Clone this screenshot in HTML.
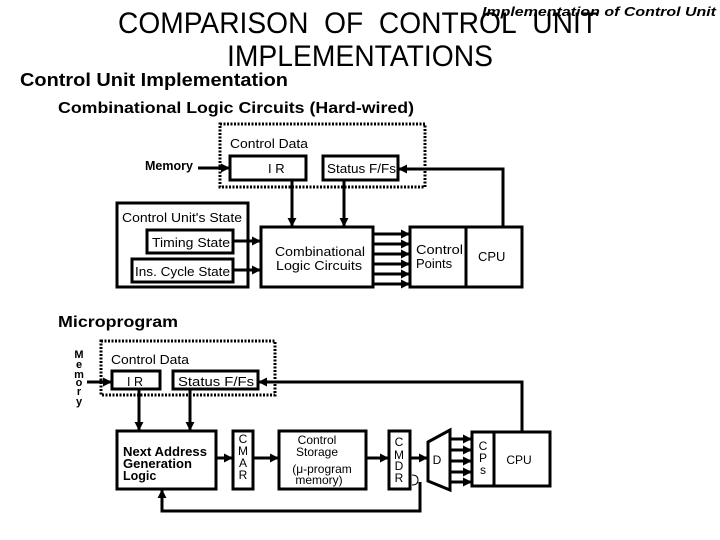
<!DOCTYPE html>
<html><head><meta charset="utf-8"><style>html,body{margin:0;padding:0;background:#fff}svg{display:block}</style></head>
<body>
<svg width="720" height="540" viewBox="0 0 720 540" xmlns="http://www.w3.org/2000/svg" font-family="Liberation Sans, Arial, sans-serif">
<defs>
<marker id="a" viewBox="0 0 10 10" refX="9" refY="5" markerWidth="3" markerHeight="3" orient="auto"><path d="M0,0L10,5L0,10z" fill="#000"/></marker>
</defs>
<g fill="#000">
<text x="118" y="33" font-size="30" textLength="480" lengthAdjust="spacingAndGlyphs">COMPARISON&#160; OF&#160; CONTROL&#160; UNIT</text>
<text x="227" y="66" font-size="30" textLength="266" lengthAdjust="spacingAndGlyphs">IMPLEMENTATIONS</text>
<text x="482" y="16" font-size="13" font-style="italic" font-weight="bold" textLength="234" lengthAdjust="spacingAndGlyphs">Implementation of Control Unit</text>
<text x="20" y="86" font-size="18" font-weight="bold" textLength="268" lengthAdjust="spacingAndGlyphs">Control Unit Implementation</text>
<text x="58" y="113" font-size="16" font-weight="bold" textLength="356" lengthAdjust="spacingAndGlyphs">Combinational Logic Circuits (Hard-wired)</text>
<text x="58" y="327" font-size="16" font-weight="bold" textLength="120" lengthAdjust="spacingAndGlyphs">Microprogram</text>
</g>
<g fill="none" stroke="#000" stroke-width="3">
<rect x="220" y="124" width="205" height="63" stroke-dasharray="2,1.5"/>
<rect x="230" y="156" width="76" height="24"/>
<rect x="323" y="156" width="75" height="24"/>
<rect x="117" y="203" width="131" height="84"/>
<rect x="147" y="230" width="86" height="23"/>
<rect x="132" y="259" width="101" height="23"/>
<rect x="261" y="227" width="112" height="60"/>
<rect x="410" y="227" width="56" height="60"/>
<rect x="466" y="227" width="56" height="60"/>
<line x1="198" y1="168" x2="229" y2="168" marker-end="url(#a)"/>
<line x1="292" y1="180" x2="292" y2="226" marker-end="url(#a)"/>
<line x1="344" y1="180" x2="344" y2="226" marker-end="url(#a)"/>
<polyline points="503,227 503,169 399,169" marker-end="url(#a)"/>
<line x1="233" y1="241" x2="260" y2="241" marker-end="url(#a)"/>
<line x1="233" y1="270" x2="260" y2="270" marker-end="url(#a)"/>
<line x1="373" y1="234" x2="409" y2="234" marker-end="url(#a)"/>
<line x1="373" y1="244" x2="409" y2="244" marker-end="url(#a)"/>
<line x1="373" y1="254" x2="409" y2="254" marker-end="url(#a)"/>
<line x1="373" y1="264" x2="409" y2="264" marker-end="url(#a)"/>
<line x1="373" y1="274" x2="409" y2="274" marker-end="url(#a)"/>
<line x1="373" y1="284" x2="409" y2="284" marker-end="url(#a)"/>
<rect x="101" y="341" width="174" height="54" stroke-dasharray="2,1.5"/>
<rect x="112" y="371" width="48" height="18"/>
<rect x="173" y="371" width="85" height="18"/>
<rect x="117" y="431" width="99" height="58"/>
<rect x="233" y="431" width="20" height="58"/>
<rect x="279" y="431" width="87" height="58"/>
<rect x="389" y="431" width="21" height="58"/>
<polygon points="428,442 450,430 450,490 428,481"/>
<rect x="472" y="432" width="22" height="54"/>
<rect x="494" y="432" width="56" height="54"/>
<line x1="87" y1="382" x2="111" y2="382" marker-end="url(#a)"/>
<line x1="139" y1="389" x2="139" y2="430" marker-end="url(#a)"/>
<line x1="190" y1="389" x2="190" y2="430" marker-end="url(#a)"/>
<polyline points="522,432 522,382 259,382" marker-end="url(#a)"/>
<line x1="216" y1="458" x2="232" y2="458" marker-end="url(#a)"/>
<line x1="253" y1="458" x2="278" y2="458" marker-end="url(#a)"/>
<line x1="366" y1="458" x2="388" y2="458" marker-end="url(#a)"/>
<line x1="410" y1="458" x2="427" y2="458" marker-end="url(#a)"/>
<line x1="450" y1="439" x2="471" y2="439" marker-end="url(#a)"/>
<line x1="450" y1="450" x2="471" y2="450" marker-end="url(#a)"/>
<line x1="450" y1="461" x2="471" y2="461" marker-end="url(#a)"/>
<line x1="450" y1="472" x2="471" y2="472" marker-end="url(#a)"/>
<line x1="450" y1="482" x2="471" y2="482" marker-end="url(#a)"/>
<polyline points="420,482 420,511 162,511 162,490" marker-end="url(#a)"/>
</g>
<path d="M412,475 Q418,475 418,480 Q418,485 412,485" fill="none" stroke="#000" stroke-width="1"/>
<g fill="#000" font-weight="bold" font-size="13">
<text x="230" y="148" font-size="12.5" textLength="78" lengthAdjust="spacingAndGlyphs" font-weight="normal">Control Data</text>
<text x="145" y="170" font-size="12.5">Memory</text>
<text x="268" y="173" font-size="13" font-weight="normal">I R</text>
<text x="327" y="173" font-size="12.5" font-weight="normal" textLength="69" lengthAdjust="spacingAndGlyphs">Status F/Fs</text>
<text x="122" y="222" font-size="12.5" font-weight="normal" textLength="120" lengthAdjust="spacingAndGlyphs">Control Unit's State</text>
<text x="152" y="247" font-size="12.5" font-weight="normal" textLength="78" lengthAdjust="spacingAndGlyphs">Timing State</text>
<text x="135" y="276" font-size="12.5" font-weight="normal" textLength="95" lengthAdjust="spacingAndGlyphs">Ins. Cycle State</text>
<text x="275" y="256" font-size="12.5" font-weight="normal" textLength="90" lengthAdjust="spacingAndGlyphs">Combinational</text>
<text x="276" y="270" font-size="12.5" font-weight="normal" textLength="86" lengthAdjust="spacingAndGlyphs">Logic Circuits</text>
<text x="416" y="254" font-size="13" font-weight="normal" textLength="47" lengthAdjust="spacingAndGlyphs">Control</text>
<text x="416" y="268" font-size="13" font-weight="normal">Points</text>
<text x="478" y="261" font-size="13" font-weight="normal">CPU</text>
<text x="111" y="364" font-size="12.5" font-weight="normal" textLength="78" lengthAdjust="spacingAndGlyphs">Control Data</text>
<text x="127" y="386" font-size="12.5" font-weight="normal">I R</text>
<text x="178" y="386" font-size="12.5" font-weight="normal" textLength="76" lengthAdjust="spacingAndGlyphs">Status F/Fs</text>
<g font-size="11" text-anchor="middle">
<text x="79" y="358">M</text><text x="79" y="368">e</text><text x="79" y="378">m</text><text x="79" y="386">o</text><text x="79" y="395">r</text><text x="79" y="405">y</text>
</g>
<text x="123" y="456" font-size="12.5" textLength="84" lengthAdjust="spacingAndGlyphs">Next Address</text>
<text x="123" y="468" font-size="12.5" textLength="69" lengthAdjust="spacingAndGlyphs">Generation</text>
<text x="123" y="480" font-size="12.5">Logic</text>
<g font-size="12" font-weight="normal" text-anchor="middle">
<text x="243" y="443">C</text><text x="243" y="455">M</text><text x="243" y="467">A</text><text x="243" y="479">R</text>
<text x="399" y="446">C</text><text x="399" y="459">M</text><text x="399" y="470">D</text><text x="399" y="482">R</text>
<text x="483" y="450">C</text><text x="483" y="462">P</text><text x="483" y="474">s</text>
<text x="317" y="444">Control</text><text x="317" y="456">Storage</text>
<text x="322" y="473">(μ-program</text><text x="319" y="484">memory)</text>
<text x="437" y="464">D</text>
<text x="519" y="464">CPU</text>
</g>
</g>
</svg>
</body></html>
